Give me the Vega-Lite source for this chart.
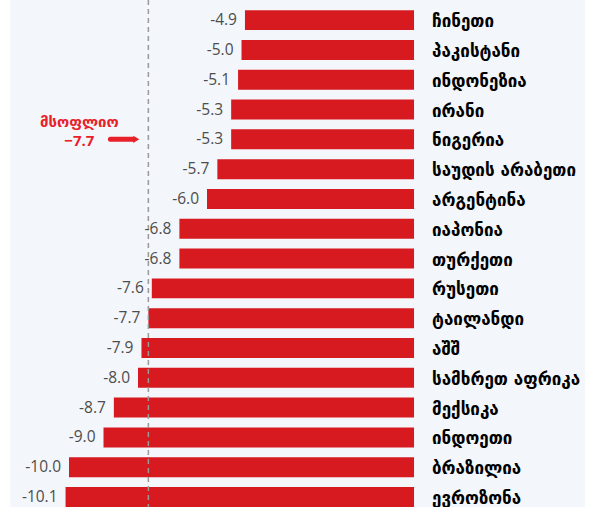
{
  "$schema": "https://vega.github.io/schema/vega-lite/v6.json",
  "width": 600,
  "height": 507,
  "autosize": {"type": "none"},
  "padding": 0,
  "background": "#ffffff",
  "config": {"view": {"stroke": null}},
  "data": {"values": [{}]},
  "datasets": {
    "rows": [
      {"country": "ჩინეთი", "value": -4.9, "label": "-4.9"},
      {"country": "პაკისტანი", "value": -5.0, "label": "-5.0"},
      {"country": "ინდონეზია", "value": -5.1, "label": "-5.1"},
      {"country": "ირანი", "value": -5.3, "label": "-5.3"},
      {"country": "ნიგერია", "value": -5.3, "label": "-5.3"},
      {"country": "საუდის არაბეთი", "value": -5.7, "label": "-5.7"},
      {"country": "არგენტინა", "value": -6.0, "label": "-6.0"},
      {"country": "იაპონია", "value": -6.8, "label": "-6.8"},
      {"country": "თურქეთი", "value": -6.8, "label": "-6.8"},
      {"country": "რუსეთი", "value": -7.6, "label": "-7.6"},
      {"country": "ტაილანდი", "value": -7.7, "label": "-7.7"},
      {"country": "აშშ", "value": -7.9, "label": "-7.9"},
      {"country": "სამხრეთ აფრიკა", "value": -8.0, "label": "-8.0"},
      {"country": "მექსიკა", "value": -8.7, "label": "-8.7"},
      {"country": "ინდოეთი", "value": -9.0, "label": "-9.0"},
      {"country": "ბრაზილია", "value": -10.0, "label": "-10.0"},
      {"country": "ევროზონა", "value": -10.1, "label": "-10.1"}
    ]
  },
  "layer": [
    {
      "data": {"values": [{"a": -11.7, "b": 4.95}]},
      "mark": {"type": "rect", "color": "#f3f6fa"},
      "encoding": {
        "x": {"field": "a", "type": "quantitative", "scale": {"domain": [-12, 5.39], "nice": false, "zero": false}, "axis": null},
        "x2": {"field": "b"}
      }
    },
    {
      "data": {"name": "rows"},
      "mark": {"type": "bar", "color": "#d71920"},
      "encoding": {
        "y": {"field": "country", "type": "nominal", "sort": null, "axis": null, "scale": {"paddingInner": 0.33, "paddingOuter": 0.17, "align": 1}},
        "x": {"field": "value", "type": "quantitative"}
      }
    },
    {
      "mark": {"type": "rule", "color": "#9a9a9a", "strokeDash": [5, 4], "strokeWidth": 1.5},
      "encoding": {"x": {"datum": -7.7}}
    },
    {
      "data": {"name": "rows"},
      "mark": {"type": "text", "align": "right", "baseline": "middle", "dx": -8, "fontSize": 15.5, "font": "Open Sans", "color": "#4d4d4d"},
      "encoding": {
        "y": {"field": "country", "type": "nominal", "sort": null},
        "x": {"field": "value", "type": "quantitative"},
        "text": {"field": "label"}
      }
    },
    {
      "data": {"name": "rows"},
      "mark": {"type": "text", "align": "left", "baseline": "middle", "dx": 18, "dy": 2, "fontSize": 17, "font": "DejaVu Sans", "fontWeight": "bold", "color": "#000000"},
      "encoding": {
        "y": {"field": "country", "type": "nominal", "sort": null},
        "x": {"datum": 0},
        "text": {"field": "country"}
      }
    },
    {
      "mark": {"type": "text", "align": "center", "baseline": "middle", "dy": -17, "fontSize": 15, "font": "DejaVu Sans", "fontWeight": "bold", "color": "#e8202a"},
      "encoding": {"x": {"datum": -9.7}, "y": {"datum": "ნიგერია"}, "text": {"value": "მსოფლიო"}}
    },
    {
      "mark": {"type": "text", "align": "center", "baseline": "middle", "dy": 2, "fontSize": 15, "font": "Open Sans", "fontWeight": "bold", "color": "#e8202a"},
      "encoding": {"x": {"datum": -9.7}, "y": {"datum": "ნიგერია"}, "text": {"value": "−7.7"}}
    },
    {
      "mark": {"type": "rule", "color": "#e8202a", "strokeWidth": 5, "strokeCap": "round"},
      "encoding": {"x": {"datum": -8.8}, "x2": {"datum": -8.15}, "y": {"datum": "ნიგერია"}}
    },
    {
      "mark": {"type": "point", "shape": "triangle-right", "filled": true, "color": "#e8202a", "opacity": 1, "size": 50},
      "encoding": {"x": {"datum": -8.05}, "y": {"datum": "ნიგერია"}}
    }
  ]
}
